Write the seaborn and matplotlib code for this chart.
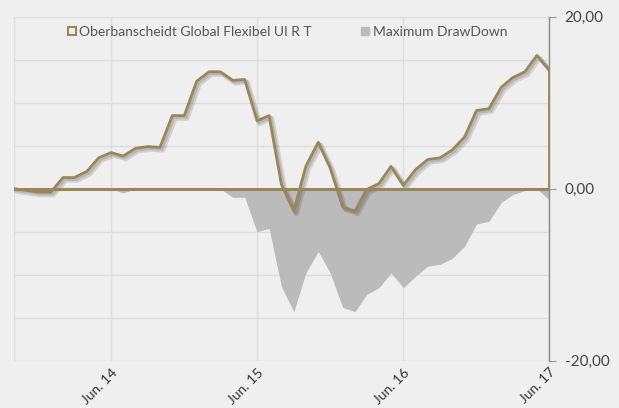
import numpy as np
import pandas as pd
import matplotlib.pyplot as plt
import matplotlib.patheffects as pe
from matplotlib.lines import Line2D
import seaborn as sns

# monthly values, Oct 2013 - Jun 2017
months = pd.date_range("2013-10-01", "2017-06-01", freq="MS")
fund = [0.0, -0.2, -0.4, -0.4, 1.3, 1.3, 2.0, 3.6, 4.2, 3.8, 4.7, 4.9,
        4.8, 8.5, 8.5, 12.5, 13.6, 13.6, 12.6, 12.7, 7.9, 8.5, 0.5, -2.6,
        2.6, 5.4, 2.4, -2.1, -2.6, -0.1, 0.6, 2.6, 0.4, 2.2, 3.4, 3.6,
        4.5, 6.0, 9.1, 9.3, 11.8, 12.9, 13.6, 15.5, 13.8]
drawdown = [0.0, 0.0, 0.0, 0.0, 0.0, 0.0, 0.0, 0.0, 0.0, -0.5, 0.0, 0.0,
            -0.1, 0.0, 0.0, 0.0, 0.0, 0.0, -1.0, -1.0, -5.0, -4.6, -11.4, -14.3,
            -9.8, -7.3, -9.8, -13.8, -14.3, -12.3, -11.5, -9.8, -11.5, -10.2, -9.0, -8.8,
            -8.1, -6.7, -4.1, -3.8, -1.6, -0.7, -0.2, 0.0, -1.3]
year_ticks = ["2014-06-01", "2015-06-01", "2016-06-01", "2017-06-01"]
year_labels = ["Jun. 14", "Jun. 15", "Jun. 16", "Jun. 17"]
y_ticks = [-20, 0, 20]
y_labels = ["-20,00", "0,00", "20,00"]

df = pd.DataFrame({"date": months, "fund": fund, "dd": drawdown})

gold = "#9a8759"
grey_fill = "#bbbbbb"
bg = "#efefef"

sns.set_style("white")
plt.rcParams["font.family"] = ["Lato", "DejaVu Sans"]

fig = plt.figure(figsize=(6.19, 4.08), dpi=100, facecolor=bg)
ax = fig.add_axes([0.0226, 0.116, 0.8648, 0.843], facecolor=bg)

# drawdown area
ax.fill_between(df["date"], df["dd"], 0, color=grey_fill, lw=0, zorder=2)

# fund line with a soft shadow
shadow = [pe.SimpleLineShadow(offset=(2, -2), shadow_color="#000000", alpha=0.12, linewidth=3.5),
          pe.SimpleLineShadow(offset=(1.2, -1.2), shadow_color="#000000", alpha=0.12, linewidth=2.5),
          pe.Normal()]
sns.lineplot(data=df, x="date", y="fund", ax=ax, color=gold, lw=2, zorder=4,
             path_effects=shadow)
ax.axhline(0, color=gold, lw=2.2, zorder=4)
ax.vlines(df["date"].iloc[-1], 0, df["fund"].iloc[-1], color=gold, lw=2, zorder=4)

ax.set_xlim(df["date"].iloc[0], df["date"].iloc[-1])
ax.set_ylim(-20, 20)

# grid
for y in range(-20, 25, 5):
    ax.axhline(y, color="#dddddd", lw=1, zorder=1)
for d in [df["date"].iloc[0]] + list(pd.to_datetime(year_ticks)):
    ax.axvline(d, color="#dddddd", lw=1, zorder=1)

ax.set_xticks(pd.to_datetime(year_ticks))
ax.set_xticklabels(year_labels, rotation=45, ha="right", rotation_mode="anchor",
                   fontsize=10, color="#333333")
ax.yaxis.tick_right()
ax.set_yticks(y_ticks)
ax.set_yticklabels(y_labels, fontsize=11, color="#444444")
ax.tick_params(axis="y", length=5, color="#999999", pad=6)
ax.tick_params(axis="x", length=0, pad=4)
ax.set_xlabel("")
ax.set_ylabel("")

for s in ["left", "top", "bottom"]:
    ax.spines[s].set_visible(False)
ax.spines["right"].set_color("#888888")
ax.spines["right"].set_linewidth(1)

handles = [
    Line2D([], [], marker="s", ls="none", markersize=6, markerfacecolor="none",
           markeredgecolor=gold, markeredgewidth=1.5),
    Line2D([], [], marker="s", ls="none", markersize=6, markerfacecolor=grey_fill,
           markeredgecolor=grey_fill),
]
ax.legend(handles, ["Oberbanscheidt Global Flexibel UI R T", "Maximum DrawDown"],
          loc="upper center", bbox_to_anchor=(0.509, 1.01), ncol=2, frameon=False,
          fontsize=10, handletextpad=0.1, columnspacing=3.4, handlelength=0.9,
          labelcolor="#555555")

fig.savefig("out.png", dpi=100, facecolor=bg)
